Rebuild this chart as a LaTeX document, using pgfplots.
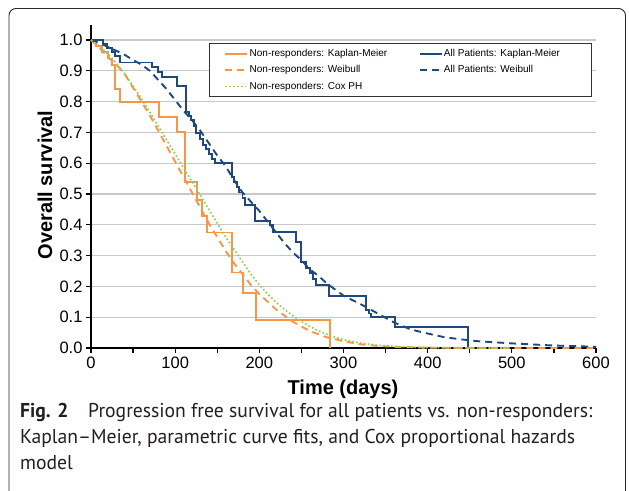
\documentclass[border=0pt]{standalone}
\usepackage{fontspec}
\setmainfont{Liberation Sans}
\newfontfamily\capfont{PT Sans}
\usepackage{pgfplots}
\pgfplotsset{compat=1.18}
\definecolor{kmorange}{RGB}{247,150,70}
\definecolor{kmblue}{RGB}{31,73,125}
\definecolor{coxgreen}{RGB}{146,208,80}
\definecolor{gridgray}{RGB}{200,200,200}
\definecolor{framegray}{RGB}{40,40,40}
\definecolor{captext}{RGB}{35,31,32}
\newlength\capw
\begin{document}
\settowidth\capw{\capfont\fontsize{20}{24}\selectfont Kaplan–Meier, parametric curve fits, and Cox proportional hazards}%
\pgfmathsetmacro\capscale{555/\capw}%
\begin{tikzpicture}[x=1pt,y=1pt]
\useasboundingbox (0,0) rectangle (629,-490);
\draw[framegray, line width=0.9pt, rounded corners=7pt] (9,-8.5) rectangle (625.5,-520);
\begin{axis}[
  at={(91pt,-348pt)}, anchor=south west,
  scale only axis, width=505pt, height=323.4pt,
  xmin=0, xmax=600, ymin=0, ymax=1.05,
  axis lines=left, axis line style={line width=1.8pt, -},
  xtick={0,100,200,300,400,500,600},
  minor xtick={50,150,250,350,450,550},
  ytick={0,0.1,0.2,0.3,0.4,0.5,0.6,0.7,0.8,0.9,1.0},
  yticklabel style={/pgf/number format/.cd, fixed, fixed zerofill, precision=1},
  /pgf/number format/assume math mode=true,
  tick label style={font=\fontsize{16.5}{18}\selectfont},
  tick style={black, line width=1.2pt},
  major tick length=5pt, minor tick length=5pt,
  tick align=outside,
  ymajorgrids, grid style={gridgray, line width=1.2pt},
  xlabel={\bfseries Time (days)},
  ylabel={\bfseries Overall survival},
  label style={font=\fontsize{20}{24}\selectfont},
  xlabel style={at={(axis description cs:0.499,-0.128)}, anchor=center},
  ylabel style={at={(axis description cs:-0.091,0.504)}, anchor=center, rotate=0},
  legend columns=2,
  legend cell align=left,
  legend image code/.code={\draw[#1] (0pt,0pt) -- (22pt,0pt);},
  legend style={at={(rel axis cs:0.992,0.942)}, anchor=north east,
    draw=black!80, line width=1pt, fill=white,
    font=\fontsize{10}{12}\selectfont,
    inner xsep=15pt, inner ysep=1.5pt,
    nodes={inner xsep=1.5pt, inner ysep=3.5pt, text height=7.5pt, text depth=2pt},
    /tikz/every even column/.append style={column sep=0pt}},
  clip=false,
]
% Non-responders Kaplan-Meier
\addplot[kmorange, line width=1.9pt, const plot] coordinates {
(0,1) (6,0.98) (13,0.96) (20,0.94) (25,0.92) (28,0.84) (34,0.80) (81,0.75)
(102,0.70) (112,0.54) (126,0.48) (132,0.43) (138,0.375) (167,0.245) (181,0.18)
(196,0.092) (284,0)};
\addlegendentry{\makebox[167.4pt][l]{Non-responders: Kaplan-Meier}}
% All patients Kaplan-Meier
\addplot[kmblue, line width=1.9pt, const plot] coordinates {
(0,1) (14,0.987) (19,0.974) (25,0.96) (29,0.947) (34,0.927) (72,0.913) (80,0.897)
(84,0.88) (102,0.851) (113,0.767) (116,0.753) (119,0.74) (122,0.72) (125,0.698)
(130,0.68) (133,0.66) (137,0.645) (140,0.63) (144,0.613) (147,0.60) (167,0.556)
(170,0.54) (173,0.523) (176,0.505) (180,0.487) (183,0.464) (195,0.413) (213,0.40)
(216,0.378) (244,0.345) (250,0.28) (255,0.26) (260,0.244) (264,0.225) (267,0.205)
(283,0.17) (327,0.123) (330,0.112) (333,0.102) (361,0.068) (448,0)};
\addlegendentry{\makebox[131pt][l]{All Patients: Kaplan-Meier}}
% Non-responders Weibull
\addplot[kmorange, line width=1.9pt, dash pattern=on 7pt off 5pt] coordinates {
(0,1.0) (10,0.975) (20,0.945) (30,0.92) (40,0.89) (50,0.845) (60,0.80) (70,0.755)
(80,0.705) (90,0.655) (100,0.605) (110,0.555) (120,0.505) (130,0.455) (140,0.405)
(150,0.36) (160,0.315) (170,0.275) (180,0.24) (190,0.205) (200,0.175) (220,0.125)
(240,0.085) (260,0.055) (280,0.035) (300,0.022) (320,0.012) (340,0.007) (360,0.004)
(400,0.001) (450,0.0003) (600,0)};
\addlegendentry{Non-responders: Weibull}
% All patients Weibull
\addplot[kmblue, line width=1.9pt, dash pattern=on 7pt off 5pt] coordinates {
(0,1.0) (10,0.99) (20,0.978) (30,0.965) (40,0.952) (50,0.935) (60,0.92) (70,0.90)
(80,0.87) (90,0.84) (100,0.805) (110,0.77) (120,0.74) (130,0.705) (140,0.665)
(150,0.625) (160,0.59) (170,0.545) (180,0.505) (190,0.475) (200,0.445) (210,0.41)
(220,0.375) (230,0.34) (240,0.31) (250,0.285) (260,0.255) (270,0.235) (280,0.21)
(290,0.19) (300,0.17) (320,0.143) (340,0.113) (360,0.083) (380,0.06) (400,0.047)
(420,0.035) (440,0.028) (460,0.022) (500,0.015) (550,0.008) (600,0.004)};
\addlegendentry{All Patients: Weibull}
% Non-responders Cox PH
\addplot[coxgreen, line width=1.7pt, dash pattern=on 1.7pt off 2.2pt] coordinates {
(0,1.0) (10,0.98) (20,0.955) (30,0.925) (40,0.89) (50,0.85) (60,0.81) (70,0.765)
(80,0.72) (90,0.675) (100,0.63) (110,0.585) (120,0.54) (130,0.495) (140,0.45)
(150,0.405) (160,0.36) (170,0.32) (180,0.28) (190,0.24) (200,0.205) (210,0.175)
(220,0.148) (230,0.125) (240,0.104) (250,0.086) (260,0.07) (270,0.056) (280,0.045)
(290,0.035) (300,0.027) (320,0.016) (340,0.009) (360,0.005) (380,0.003) (400,0.0015)
(450,0.0003) (500,0)};
\addlegendentry{Non-responders: Cox PH}
\end{axis}
\begin{scope}[every node/.style={anchor=base west, inner sep=0pt, text=captext, font=\capfont\fontsize{20}{24}\selectfont}]
\node at (20,-417) {\scalebox{\capscale}[1]{\textbf{Fig. 2}\hspace{1.0em}Progression free survival for all patients vs. non-responders:}};
\node at (20,-443) {\scalebox{\capscale}[1]{Kaplan–Meier, parametric curve fits, and Cox proportional hazards}};
\node at (20,-469) {\scalebox{\capscale}[1]{model}};
\end{scope}
\end{tikzpicture}
\end{document}
